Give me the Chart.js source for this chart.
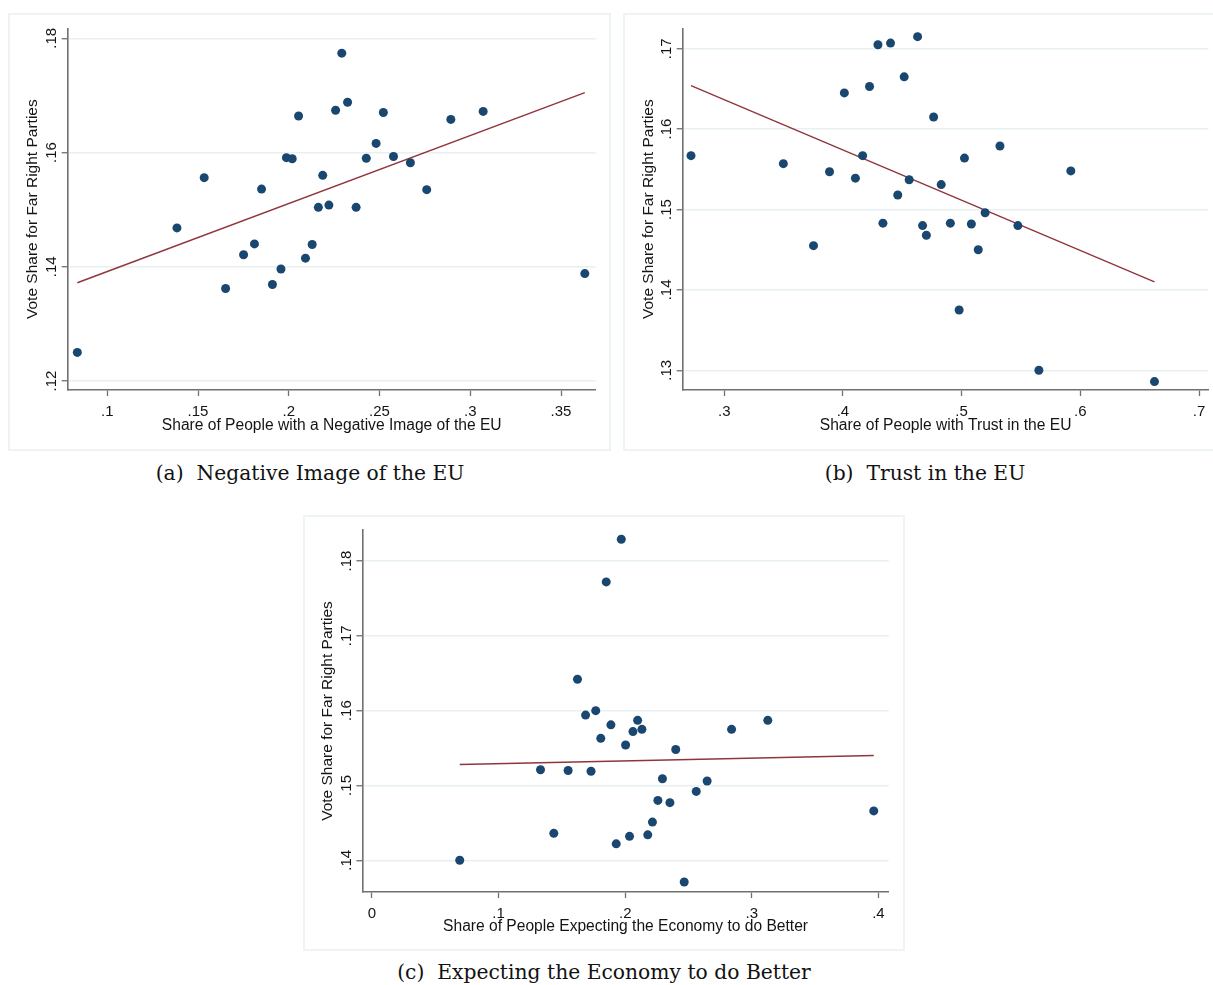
<!DOCTYPE html>
<html><head><meta charset="utf-8">
<script src="https://cdn.jsdelivr.net/npm/chart.js@4.4.1/dist/chart.umd.min.js"></script>
<style>
html,body{margin:0;padding:0;background:#fff;overflow:hidden;width:1213px;height:985px;}
.frame{position:absolute;box-sizing:border-box;border:2px solid #eef3f4;}
canvas{position:absolute;}
.cap{position:absolute;font-family:"DejaVu Serif",serif;font-size:20.3px;color:#111;white-space:pre;transform:translate(-50%,-50%);}
</style></head><body>
<div class="frame" style="left:8px;top:13px;width:603px;height:438px"></div>
<div class="frame" style="left:623px;top:13px;width:620px;height:438px"></div>
<div class="frame" style="left:303px;top:515px;width:602px;height:436px"></div>
<canvas id="ca" style="left:8px;top:13px"></canvas>
<canvas id="cb" style="left:624px;top:13px"></canvas>
<canvas id="cc" style="left:303px;top:515px"></canvas>
<div class="cap" style="left:310px;top:473px">(a)  Negative Image of the EU</div>
<div class="cap" style="left:925px;top:473px">(b)  Trust in the EU</div>
<div class="cap" style="left:604px;top:972px">(c)  Expecting the Economy to do Better</div>
<script>
// ---- Panel (a): Negative image of the EU ----
const negX = [0.0835,0.1384,0.1534,0.1652,0.1751,0.1811,0.1850,0.1910,0.1957,0.1987,0.2019,0.2054,0.2092,0.2129,0.2163,0.2187,0.2221,0.2258,0.2292,0.2324,0.2371,0.2427,0.2481,0.2521,0.2577,0.2670,0.2760,0.2893,0.3071,0.3631];
const negY = [0.1250,0.1468,0.1556,0.1362,0.1421,0.1440,0.1536,0.1369,0.1396,0.1591,0.1589,0.1664,0.1415,0.1439,0.1504,0.1560,0.1508,0.1674,0.1774,0.1688,0.1504,0.1590,0.1616,0.1670,0.1593,0.1582,0.1535,0.1658,0.1672,0.1388];
const negFitX = [0.0835,0.3631];
const negFitY = [0.1372,0.1705];
const negXTicks = [0.1,0.15,0.2,0.25,0.3,0.35];
const negXLabels = [".1",".15",".2",".25",".3",".35"];
const negYTicks = [0.12,0.14,0.16,0.18];
const negYLabels = [".12",".14",".16",".18"];

// ---- Panel (b): Trust in the EU ----
const trustX = [0.2720,0.3498,0.3752,0.3887,0.4012,0.4105,0.4166,0.4224,0.4295,0.4337,0.4401,0.4462,0.4516,0.4558,0.4629,0.4671,0.4703,0.4764,0.4828,0.4905,0.4979,0.5024,0.5082,0.5140,0.5198,0.5323,0.5474,0.5651,0.5920,0.6625];
const trustY = [0.1567,0.1557,0.1455,0.1547,0.1645,0.1539,0.1567,0.1653,0.1705,0.1483,0.1707,0.1518,0.1665,0.1537,0.1715,0.1480,0.1468,0.1615,0.1531,0.1483,0.1375,0.1564,0.1482,0.1450,0.1496,0.1579,0.1480,0.1300,0.1548,0.1286];
const trustFitX = [0.2720,0.6625];
const trustFitY = [0.1654,0.1410];
const trustXTicks = [0.3,0.4,0.5,0.6,0.7];
const trustXLabels = [".3",".4",".5",".6",".7"];
const trustYTicks = [0.13,0.14,0.15,0.16,0.17];
const trustYLabels = [".13",".14",".15",".16",".17"];

// ---- Panel (c): Expecting the economy to do better ----
const econX = [0.0693,0.1331,0.1436,0.1549,0.1623,0.1687,0.1730,0.1767,0.1807,0.1850,0.1887,0.1929,0.1969,0.2003,0.2034,0.2061,0.2098,0.2132,0.2178,0.2215,0.2258,0.2294,0.2353,0.2399,0.2466,0.2561,0.2647,0.2840,0.3126,0.3963];
const econY = [0.1400,0.1521,0.1436,0.1520,0.1642,0.1594,0.1519,0.1600,0.1563,0.1772,0.1581,0.1422,0.1829,0.1554,0.1432,0.1572,0.1587,0.1575,0.1434,0.1451,0.1480,0.1509,0.1477,0.1548,0.1371,0.1492,0.1506,0.1575,0.1587,0.1466];
const econFitX = [0.0693,0.3963];
const econFitY = [0.1528,0.1540];
const econXTicks = [0,0.1,0.2,0.3,0.4];
const econXLabels = ["0",".1",".2",".3",".4"];
const econYTicks = [0.14,0.15,0.16,0.17,0.18];
const econYLabels = [".14",".15",".16",".17",".18"];

const YTITLE = "Vote Share for Far Right Parties";
const FONT = "'Liberation Sans', Arial, sans-serif";
const TXT = "#141414";
const AXIS = "#707070";

const yLabelPlugin = {
  id: 'yRotLabels',
  afterDraw(chart) {
    const s = chart.scales.y, ctx = chart.ctx, labs = chart.options.plugins.yRotLabels.labels;
    ctx.save();
    ctx.fillStyle = TXT;
    ctx.font = "15px " + FONT;
    ctx.textAlign = 'center';
    ctx.textBaseline = 'middle';
    s.ticks.forEach((t, i) => {
      const py = s.getPixelForValue(t.value);
      ctx.save();
      ctx.translate(chart.chartArea.left - 16, py);
      ctx.rotate(-Math.PI / 2);
      ctx.fillText(labs[i], 0, 0);
      ctx.restore();
    });
    ctx.restore();
  }
};

function build(id, W, H, area, xs, ys, fx, fy, xt, xl, yt, yl, xr, yr, xTitle) {
  const cv = document.getElementById(id);
  cv.width = W; cv.height = H;
  cv.style.width = W + 'px'; cv.style.height = H + 'px';
  const pts = xs.map((x, i) => ({x: x, y: ys[i]}));
  const fit = fx.map((x, i) => ({x: x, y: fy[i]}));
  new Chart(cv, {
    type: 'scatter',
    data: {datasets: [
      {data: fit, showLine: true, borderColor: '#90353b', borderWidth: 1.4, pointRadius: 0, order: 2},
      {data: pts, backgroundColor: '#1a476f', borderWidth: 0, pointRadius: 4.5, order: 1}
    ]},
    plugins: [yLabelPlugin],
    options: {
      responsive: false, animation: false, devicePixelRatio: 1,
      layout: {padding: {left: 0, top: area.top, right: W - area.right, bottom: 0}},
      plugins: {legend: {display: false}, tooltip: {enabled: false}, yRotLabels: {labels: yl}},
      scales: {
        x: {
          type: 'linear', min: xr[0], max: xr[1],
          afterBuildTicks: s => { s.ticks = xt.map(v => ({value: v})); },
          afterFit: s => { s.height = H - area.bottom; },
          ticks: {callback: (v, i) => xl[i], color: TXT, font: {family: FONT, size: 15}, padding: 6.5, maxRotation: 0, autoSkip: false},
          grid: {drawOnChartArea: false, drawTicks: true, tickLength: 6, tickColor: AXIS, tickWidth: 1.3},
          border: {display: true, color: AXIS, width: 1.6},
          title: {display: true, text: xTitle, color: TXT, font: {family: FONT, size: 15.6}, padding: {top: 0, bottom: 15}}
        },
        y: {
          type: 'linear', min: yr[0], max: yr[1],
          afterBuildTicks: s => { s.ticks = yt.map(v => ({value: v})); },
          afterFit: s => { s.width = area.left; },
          ticks: {display: false},
          grid: {drawOnChartArea: true, color: '#e8f0f2', lineWidth: 1.5, drawTicks: true, tickLength: 6, tickColor: AXIS, tickWidth: 1.3},
          border: {display: true, color: AXIS, width: 1.6},
          title: {display: true, text: YTITLE, color: TXT, font: {family: FONT, size: 15.5}, padding: {top: 15.5, bottom: 0}}
        }
      }
    }
  });
}

build('ca', 602, 437, {left: 59.7, right: 587.7, top: 15.3, bottom: 377},
  negX, negY, negFitX, negFitY, negXTicks, negXLabels, negYTicks, negYLabels,
  [0.0782, 0.3691], [0.11842, 0.18175], "Share of People with a Negative Image of the EU");
build('cb', 589, 437, {left: 58.7, right: 586, top: 15.3, bottom: 377},
  trustX, trustY, trustFitX, trustFitY, trustXTicks, trustXLabels, trustYTicks, trustYLabels,
  [0.265, 0.708], [0.12755, 0.17254], "Share of People with Trust in the EU");
build('cc', 601, 436, {left: 59.4, right: 585.7, top: 15, bottom: 377},
  econX, econY, econFitX, econFitY, econXTicks, econXLabels, econYTicks, econYLabels,
  [-0.00758, 0.4081], [0.13576, 0.18414], "Share of People Expecting the Economy to do Better");
</script>
</body></html>
